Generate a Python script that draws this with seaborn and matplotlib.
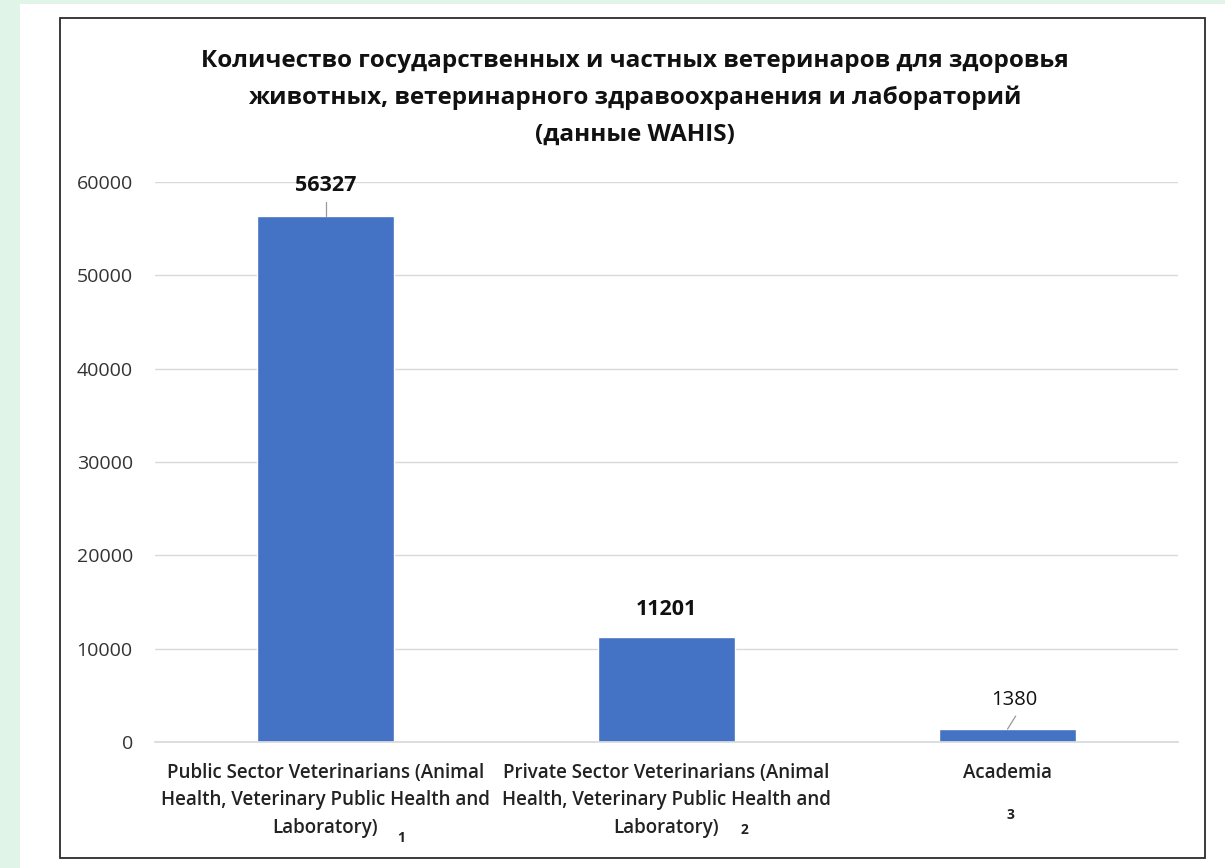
# plot.py
# Bar chart: public / private veterinarians and academia (WAHIS data)

import matplotlib
matplotlib.use("Agg")
import pandas as pd
import matplotlib.pyplot as plt
import matplotlib.transforms as mtransforms
import seaborn as sns
from matplotlib.patches import Rectangle

categories = [
    "Public Sector Veterinarians (Animal\nHealth, Veterinary Public Health and\nLaboratory)",
    "Private Sector Veterinarians (Animal\nHealth, Veterinary Public Health and\nLaboratory)",
    "Academia",
]
counts = [56327, 11201, 1380]
category_numbers = ["1", "2", "3"]
title = ("Количество государственных и частных ветеринаров для здоровья\n"
         "животных, ветеринарного здравоохранения и лабораторий\n"
         "(данные WAHIS)")
yticks = [0, 10000, 20000, 30000, 40000, 50000, 60000]

df = pd.DataFrame({"category": categories, "count": counts})

sns.set_theme(style="white")
plt.rcParams["font.family"] = ["Open Sans", "DejaVu Sans"]

W, H = 1225, 868
fig = plt.figure(figsize=(W / 100, H / 100), dpi=100)
fig.patch.set_facecolor("#e1f4e8")
# white sheet and black chart frame
fig.patches.append(Rectangle((20 / W, 0), 1 - 20 / W, 1 - 4 / H,
                             transform=fig.transFigure, facecolor="white",
                             edgecolor="none", zorder=-2))
fig.patches.append(Rectangle((60 / W, 1 - 858 / H), 1145 / W, 840 / H,
                             transform=fig.transFigure, facecolor="none",
                             edgecolor="#2b2b2b", linewidth=1.3, zorder=-1))

ax = fig.add_axes([155 / W, 1 - 742 / H, 1023 / W, 560 / H])
ax.set_zorder(2)
ax.set_facecolor("none")
sns.barplot(data=df, x="category", y="count", color="#4472c4",
            width=0.4, saturation=1, ax=ax)

ax.set_xlim(-0.5, 2.5)
ax.set_ylim(0, 60000)
ax.set_yticks(yticks)
ax.set_yticklabels([str(v) for v in yticks], fontsize=14, color="#333333")
ax.yaxis.grid(True, color="#d9d9d9", linewidth=1)
ax.set_axisbelow(True)
for s in ["top", "right", "left"]:
    ax.spines[s].set_visible(False)
ax.spines["bottom"].set_color("#d9d9d9")
ax.tick_params(axis="y", length=0, pad=16)
ax.set_xticks(range(len(categories)))
ax.set_xticklabels([])
ax.tick_params(axis="x", length=0)
ax.set_xlabel("")
ax.set_ylabel("")

# category labels, one text per wrapped line (Excel-style wrapping)
trans = mtransforms.blended_transform_factory(ax.transData, ax.transAxes)
for i, cat in enumerate(categories):
    for k, line in enumerate(cat.split("\n")):
        ax.text(i, -(31 + 27.5 * k) / 560, line, transform=trans,
                ha="center", va="center", fontsize=13.5,
                fontweight="semibold", color="#222222", clip_on=False)

# value labels with leader lines
label_dx = [0, 0, 0.02]
label_dy = [3300, 2950, 3100]
for i, v in enumerate(counts):
    bold = v > 5000
    ax.text(i + label_dx[i], v + label_dy[i], str(v), ha="center", va="center",
            fontsize=15.5 if bold else 14.5,
            fontweight="bold" if bold else "normal", color="#111111",
            clip_on=False)
ax.plot([0, 0], [counts[0], counts[0] + 1500], color="#999999", lw=0.9)
ax.plot([2, 2 + 0.024], [counts[2], counts[2] + 1400], color="#999999", lw=0.9)

# small category numbers
num_dx = [0.222, 0.23, 0.01]
num_y = [-10300, -9450, -7850]
for i, n in enumerate(category_numbers):
    ax.text(i + num_dx[i], num_y[i], n, ha="center", va="center", fontsize=10,
            fontweight="bold", color="#222222", clip_on=False)

fig.text(635 / W, 1 - 98 / H, title, ha="center", va="center",
         fontsize=17.5, fontweight="bold", color="#111111", linespacing=1.68)

fig.savefig("out.png", dpi=100, facecolor=fig.get_facecolor())
